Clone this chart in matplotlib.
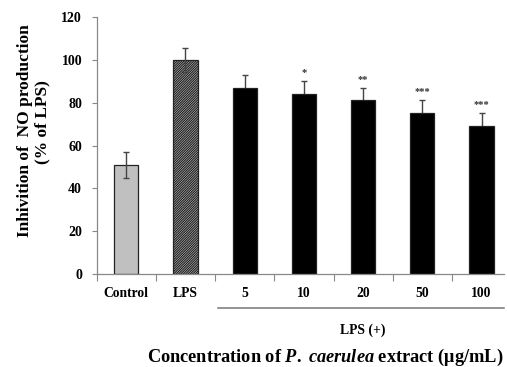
import numpy as np
import matplotlib
matplotlib.use("Agg")
import matplotlib.pyplot as plt
import matplotlib.transforms as mtransforms

plt.rcParams["font.family"] = ["Liberation Serif", "DejaVu Serif"]
plt.rcParams["font.weight"] = "bold"
plt.rcParams["mathtext.fontset"] = "custom"
plt.rcParams["mathtext.it"] = "Liberation Serif:italic:bold"
plt.rcParams["mathtext.rm"] = "Liberation Serif:bold"
plt.rcParams["hatch.linewidth"] = 0.9

# data
categories = ["Control", "LPS", "5", "10", "20", "50", "100"]
values = [51, 100, 87, 84.2, 81.2, 75.2, 69.3]
errors = [6, 5.8, 5.8, 6, 5.6, 5.9, 5.8]
stars = ["", "", "", "*", "**", "***", "***"]
y_ticks = [0, 20, 40, 60, 80, 100, 120]

fig = plt.figure(figsize=(5.07, 3.67), dpi=100)
ax = fig.add_axes([0.1907, 0.2534, 0.8034, 0.6996])

x = np.arange(len(categories))
colors = ["#c0c0c0", "#eeeeee"] + ["black"] * 5
hatches = [None, "/" * 14] + [None] * 5
for i in range(len(categories)):
    ax.bar(x[i], values[i], width=0.41, color=colors[i], edgecolor="#222222",
           linewidth=0.9, hatch=hatches[i], zorder=2)

# error bars: in front of the light bars, behind the black ones
for i in range(len(categories)):
    z = 3 if colors[i] != "black" else 1
    ax.errorbar(x[i], values[i], yerr=errors[i], fmt="none", ecolor="#444444",
                elinewidth=1.0, capsize=2.2, capthick=1.0, zorder=z)

for i in range(len(categories)):
    if stars[i]:
        ax.annotate(stars[i], (x[i], values[i] + errors[i]), xytext=(0, 3),
                    textcoords="offset points", ha="center", va="bottom",
                    fontsize=7.5, color="#333333")

ax.set_ylim(0, 120)
ax.set_xlim(-0.5, 6.38)
ax.set_yticks(y_ticks)
ax.set_yticklabels([str(v) for v in y_ticks], fontsize=10, fontweight="bold")

# tick marks at the category boundaries, labels at the centres
ax.set_xticks(np.arange(-0.5, 6.0, 1.0))
ax.set_xticklabels([])
ax.set_xticks(x, minor=True)
ax.set_xticklabels(categories, minor=True, fontsize=9.8, fontweight="bold")
ax.tick_params(axis="x", which="major", length=5, color="#888888", width=0.8)
ax.tick_params(axis="x", which="minor", length=0, pad=9)
ax.tick_params(axis="y", length=3.5, color="#888888", width=0.8, pad=7)

for s in ["top", "right"]:
    ax.spines[s].set_visible(False)
for s in ["left", "bottom"]:
    ax.spines[s].set_color("#888888")
    ax.spines[s].set_linewidth(0.9)

# LPS (+) bracket under the treated groups
trans = mtransforms.blended_transform_factory(ax.transData, ax.transAxes)
ax.plot([1.55, 6.38], [-0.134, -0.134], color="#777777", linewidth=1.1,
        transform=trans, clip_on=False)
ax.text(4, -0.218, "LPS (+)", transform=trans, ha="center", va="center",
        fontsize=9.8, fontweight="bold")

fig.text(0.641, 0.026, "Concentration of $P.$ $caerulea$ extract (\u03bcg/mL)",
         ha="center", va="center", fontsize=13.2, fontweight="bold")

fig.text(0.049, 0.645, "Inhivition of  NO production", rotation=90,
         ha="center", va="center", fontsize=12.5, fontweight="bold")
fig.text(0.083, 0.667, "(% of LPS)", rotation=90,
         ha="center", va="center", fontsize=12.5, fontweight="bold")

fig.savefig("out.png", dpi=100)
